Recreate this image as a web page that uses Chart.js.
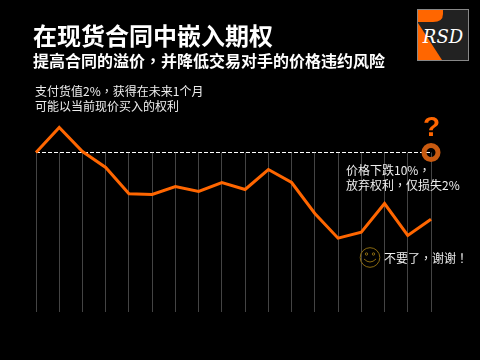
<!DOCTYPE html>
<html>
<head>
<meta charset="utf-8">
<script src="https://cdn.jsdelivr.net/npm/chart.js@4"></script>
<style>
  html, body { margin: 0; padding: 0; background: #000; }
  #wrap { position: relative; width: 480px; height: 360px; overflow: hidden; font-family: "Noto Sans CJK SC", sans-serif; color: #fff; }
  #wrap div { position: absolute; white-space: nowrap; }
  canvas { position: absolute; left: 0; top: 0; }
  #title { left: 33px; top: 17px; font-size: 24px; line-height: 36px; font-weight: 700; }
  #subtitle { left: 33px; top: 48px; font-size: 16px; line-height: 24px; font-weight: 700; }
  .note { font-size: 12px; line-height: 15px; color: #eee; }
  .p { font-family: "Noto Sans CJK TC", sans-serif; }
  #q { left: 423px; top: 108px; font: bold 28px/38px "Liberation Sans", sans-serif; color: #f60; }
  svg { position: absolute; }
</style>
</head>
<body>
<div id="wrap">
  <canvas id="chart-1" width="480" height="360"></canvas>
  <div id="title">在现货合同中嵌入期权</div>
  <div id="subtitle">提高合同的溢价<span class="p">，</span>并降低交易对手的价格违约风险</div>
  <div class="note" style="left:35px;top:83px">支付货值2%<span class="p">，</span>获得在未来1个月<br>可能以当前现价买入的权利</div>
  <div class="note" style="left:346px;top:162px">价格下跌10%<span class="p">，</span><br>放弃权利<span class="p">，</span>仅损失2%</div>
  <div class="note" style="left:384px;top:250px">不要了<span class="p">，</span>谢谢<span class="p">！</span></div>
  <div id="q">?</div>
  <!-- logo -->
  <svg style="left:417px;top:9px" width="52" height="52">
    <rect x="0.5" y="0.5" width="51" height="51" fill="#222" stroke="#888"/>
    <path d="M1 1H26V5Q26 13 16 13H1Z" fill="#f60"/>
    <path d="M1 14L25 51H1Z" fill="#f60"/>
    <text x="26" y="34" text-anchor="middle" fill="#fff" font-family="DejaVu Serif" font-style="italic" font-size="18">RSD</text>
  </svg>
  <!-- smiley -->
  <svg style="left:359px;top:246px" width="22" height="24" fill="none" stroke="#8a6a10">
    <circle cx="11" cy="11.5" r="9.8"/>
    <circle cx="7.5" cy="8" r="1.2"/>
    <circle cx="14.5" cy="8" r="1.2"/>
    <path d="M5 13Q11 19 17 13"/>
  </svg>
</div>
<script>
// months along the x axis (no labels shown)
const categories = ["1","2","3","4","5","6","7","8","9","10","11","12","13","14","15","16","17","18"];
// price index, 100 = today's price
const priceValues = [100, 103.75, 100.15, 97.75, 93.8, 93.7, 94.9, 94.15, 95.5, 94.45, 97.45, 95.5, 90.85, 87.15, 88.05, 92.35, 87.55, 90];
// current price level, dashed
const strikeValues = [100, 100, 100, 100, 100, 100, 100, 100, 100, 100, 100, 100, 100, 100, 100, 100, 100, 100];
const strikePointRadius = [0, 0, 0, 0, 0, 0, 0, 0, 0, 0, 0, 0, 0, 0, 0, 0, 0, 7];

const ctx1 = document.getElementById("chart-1").getContext("2d");
const myChart = new Chart(ctx1, {
  type: "line",
  data: {
    labels: categories,
    datasets: [
      {
        label: "Price",
        data: priceValues,
        borderColor: "#ff6600",
        borderWidth: 3,
        pointRadius: 0,
        tension: 0,
        clip: false,
      },
      {
        label: "Strike",
        data: strikeValues,
        borderColor: "#ffffff",
        borderWidth: 1,
        borderDash: [4, 2],
        pointRadius: strikePointRadius,
        pointBorderColor: "#c85a10",
        pointBackgroundColor: "rgba(0,0,0,0)",
        pointBorderWidth: 5,
        tension: 0,
        clip: false,
      },
    ],
  },
  options: {
    responsive: false,
    animation: false,
    layout: { padding: { left: 36, right: 49, top: 152.5, bottom: 48.5 } },
    plugins: { legend: { display: false }, tooltip: { enabled: false } },
    scales: {
      x: {
        offset: false,
        grid: { color: "#444444", lineWidth: 1, drawTicks: false },
        border: { display: false },
        ticks: { display: false },
      },
      y: {
        display: false,
        min: 76.15,
        max: 100,
      },
    },
  },
});
</script>
</body>
</html>
